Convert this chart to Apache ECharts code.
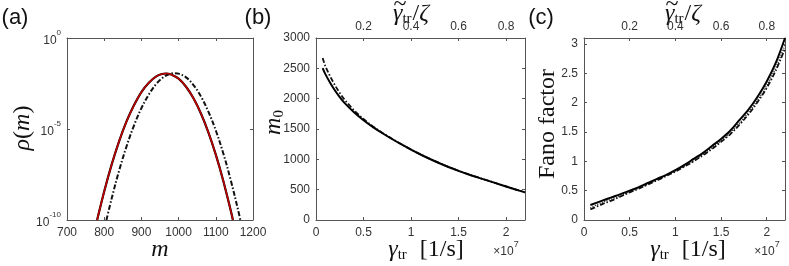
<!DOCTYPE html>
<html><head><meta charset="utf-8">
<script src="https://cdn.jsdelivr.net/npm/echarts@6/dist/echarts.min.js"></script>
<style>html,body{margin:0;padding:0;background:#fff}#c{width:789px;height:266px}</style>
</head><body><div id="c"></div>
<script>
// ---------- Panel (a): distribution rho(m) ----------
const mRed   = [781, 800, 820, 840, 860, 880, 900, 920, 940, 955, 966, 980, 1000, 1020, 1040, 1060, 1080, 1100, 1120, 1140, 1146];
const rhoRed = [1e-10, 3.7e-9, 1.1e-7, 2.1e-6, 2.6e-5, 2.0e-4, 1.07e-3, 3.5e-3, 7.8e-3, 1.05e-2, 1.12e-2, 1.0e-2, 5.8e-3, 2.1e-3, 4.9e-4, 7.1e-5, 6.6e-6, 3.9e-7, 1.45e-8, 3.4e-10, 1e-10];
const mDash   = [806, 820, 840, 860, 880, 900, 920, 940, 960, 980, 990, 1000, 1020, 1040, 1060, 1080, 1100, 1120, 1140, 1160, 1166];
const rhoDash = [1e-10, 1.5e-9, 5.1e-8, 1.1e-6, 1.55e-5, 1.4e-4, 7.9e-4, 3.0e-3, 7.2e-3, 1.12e-2, 1.17e-2, 1.1e-2, 6.9e-3, 2.6e-3, 6.2e-4, 9.1e-5, 8.3e-6, 4.7e-7, 1.6e-8, 3.5e-10, 1e-10];

// ---------- Panel (b): m0 vs gamma_tr (units of 1e7 1/s) ----------
const gB = [0.07, 0.1, 0.15, 0.2, 0.25, 0.3, 0.4, 0.5, 0.6, 0.7, 0.8, 0.9, 1.0, 1.1, 1.2, 1.3, 1.4, 1.5, 1.6, 1.7, 1.8, 1.9, 2.0, 2.1, 2.2];
const m0Solid = [2505, 2400, 2260, 2135, 2025, 1930, 1775, 1645, 1532, 1430, 1335, 1245, 1160, 1080, 1005, 935, 870, 810, 755, 703, 653, 603, 553, 503, 455];
const m0Dash  = [2670, 2530, 2365, 2220, 2095, 1985, 1810, 1665, 1542, 1436, 1339, 1248, 1162, 1082, 1007, 937, 872, 812, 757, 705, 655, 605, 555, 505, 457];

// ---------- Panel (c): Fano factor vs gamma_tr ----------
const gC = [0.07, 0.2, 0.3, 0.4, 0.5, 0.6, 0.7, 0.8, 0.9, 1.0, 1.1, 1.2, 1.3, 1.4, 1.5, 1.6, 1.7, 1.8, 1.9, 2.0, 2.1, 2.2];
const fanoSolid = [0.255, 0.33, 0.385, 0.44, 0.50, 0.56, 0.63, 0.70, 0.77, 0.85, 0.94, 1.04, 1.14, 1.26, 1.38, 1.52, 1.70, 1.88, 2.10, 2.36, 2.68, 3.10];
const fanoDot   = [0.21, 0.30, 0.355, 0.415, 0.48, 0.545, 0.615, 0.685, 0.76, 0.835, 0.92, 1.015, 1.115, 1.23, 1.35, 1.48, 1.65, 1.83, 2.04, 2.29, 2.60, 2.98];
const fanoDash  = [0.18, 0.27, 0.33, 0.40, 0.47, 0.535, 0.605, 0.675, 0.75, 0.825, 0.91, 1.00, 1.10, 1.21, 1.33, 1.46, 1.62, 1.80, 2.01, 2.25, 2.55, 2.92];

const pairs = (xs, ys) => xs.map((x, i) => [x, ys[i]]);
const AX = '#555', TXT = '#333';
const SANS = 'Liberation Sans', SERIF = 'Liberation Serif';
const plain = v => String(v);
const lbl = {color: TXT, fontFamily: SANS, fontSize: 12, formatter: plain};

function frameAxis(extra) {
  return Object.assign({
    axisLine: {show: true, onZero: false, lineStyle: {color: AX, width: 1}},
    axisTick: {show: true, inside: true, length: 3, lineStyle: {color: AX}},
    splitLine: {show: false},
    axisLabel: {show: false}
  }, extra);
}

const grids = [
  {left: 67, top: 38, width: 186, height: 182},
  {left: 316, top: 38, width: 209, height: 182},
  {left: 584, top: 38, width: 201, height: 182}
];

const xAxis = [
  frameAxis({gridIndex: 0, type: 'value', position: 'bottom', min: 700, max: 1200, interval: 100,
    axisLabel: Object.assign({show: true, margin: 7}, lbl)}),
  frameAxis({gridIndex: 0, type: 'value', position: 'top', min: 700, max: 1200, interval: 100}),
  frameAxis({gridIndex: 1, type: 'value', position: 'bottom', min: 0, max: 2.2, interval: 0.5,
    axisLabel: Object.assign({show: true, margin: 7, showMaxLabel: false}, lbl)}),
  frameAxis({gridIndex: 1, type: 'value', position: 'top', min: 0, max: 0.88, interval: 0.2,
    axisLabel: Object.assign({show: true, margin: 5, showMinLabel: false, showMaxLabel: false}, lbl)}),
  frameAxis({gridIndex: 2, type: 'value', position: 'bottom', min: 0, max: 2.2, interval: 0.5,
    axisLabel: Object.assign({show: true, margin: 7, showMaxLabel: false}, lbl)}),
  frameAxis({gridIndex: 2, type: 'value', position: 'top', min: 0, max: 0.88, interval: 0.2,
    axisLabel: Object.assign({show: true, margin: 5, showMinLabel: false, showMaxLabel: false}, lbl)})
];

const yAxis = [
  frameAxis({gridIndex: 0, type: 'log', logBase: 10, min: 1e-10, max: 1, interval: 5, position: 'left',
    axisLabel: {show: true, margin: 6, color: TXT,
      formatter: v => '{b|10}{s|' + Math.round(Math.log10(v)) + '}',
      rich: {b: {fontFamily: SANS, fontSize: 12, color: TXT, lineHeight: 18, verticalAlign: 'bottom'},
             s: {fontFamily: SANS, fontSize: 8, color: TXT, lineHeight: 18, verticalAlign: 'top'}}}}),
  frameAxis({gridIndex: 0, type: 'log', logBase: 10, min: 1e-10, max: 1, interval: 5, position: 'right'}),
  frameAxis({gridIndex: 1, type: 'value', min: 0, max: 3000, interval: 500, position: 'left',
    axisLabel: Object.assign({show: true, margin: 6}, lbl)}),
  frameAxis({gridIndex: 1, type: 'value', min: 0, max: 3000, interval: 500, position: 'right'}),
  frameAxis({gridIndex: 2, type: 'value', min: 0, max: 3.1, interval: 0.5, position: 'left',
    axisLabel: Object.assign({show: true, margin: 6, showMaxLabel: false}, lbl)}),
  frameAxis({gridIndex: 2, type: 'value', min: 0, max: 3.1, interval: 0.5, position: 'right'})
];

function line(xi, yi, data, color, width, type, z) {
  return {type: 'line', xAxisIndex: xi, yAxisIndex: yi, data: data, showSymbol: false, smooth: 0.35,
    clip: true, z: z || 2, animation: false,
    lineStyle: {color: color, width: width, type: type}};
}

const series = [
  line(0, 0, pairs(mDash, rhoDash), '#111', 2, [5, 2, 1.5, 2], 2),
  line(0, 0, pairs(mRed, rhoRed), '#000', 2.2, 'solid', 3),
  line(0, 0, pairs(mRed, rhoRed), '#c00000', 1.6, 'solid', 4),
  line(2, 2, pairs(gB, m0Dash), '#111', 1.8, [5, 2, 1.5, 2], 2),
  line(2, 2, pairs(gB, m0Solid), '#000', 2, 'solid', 3),
  line(4, 4, pairs(gC, fanoDash), '#111', 1.8, [5, 2, 1.5, 2], 2),
  line(4, 4, pairs(gC, fanoDot), '#222', 1.5, [1, 1.5], 2),
  line(4, 4, pairs(gC, fanoSolid), '#000', 2, 'solid', 3)
];

function txt(x, y, text, extra, align) {
  return Object.assign({type: 'text', x: x, y: y, silent: true,
    style: {text: text, rich: R, align: align || 'center', verticalAlign: 'middle', fill: '#111'}}, extra || {});
}
const R = {
  i: {fontFamily: SERIF, fontStyle: 'italic', fontSize: 24, fill: '#111', lineHeight: 28, verticalAlign: 'middle'},
  r: {fontFamily: SERIF, fontSize: 24, fill: '#111', lineHeight: 28, verticalAlign: 'middle'},
  sub: {fontFamily: SERIF, fontSize: 15, fill: '#111', lineHeight: 28, verticalAlign: 'bottom', padding: [0, 1, 1, 0]},
  sans: {fontFamily: SANS, fontSize: 22, fill: '#111', lineHeight: 28},
  x: {fontFamily: SANS, fontSize: 12, fill: TXT, lineHeight: 18, verticalAlign: 'bottom'},
  e: {fontFamily: SANS, fontSize: 9, fill: TXT, lineHeight: 18, verticalAlign: 'top'}
};
const gammaTitle = '{i|γ}{sub|tr}{r|  [1/s]}';
const topTitle = '{i|γ}{sub|tr}{r|/}{i|ζ}';

const graphic = [
  txt(15, 18, '{sans|(a)}'),
  txt(258, 18, '{sans|(b)}'),
  txt(541, 18, '{sans|(c)}'),
  txt(23, 128, '{i|ρ}{r|(}{i|m}{r|)}', {rotation: Math.PI / 2}),
  txt(160, 250, '{i|m}'),
  txt(274, 122, '{i|m}{sub|0}', {rotation: Math.PI / 2}),
  txt(426, 250, gammaTitle),
  txt(506, 249, '{x|×10}{e|7}'),
  txt(393, 14, topTitle, null, 'left'),
  txt(400, 5, '{r|~}'),
  txt(548, 124, '{r|Fano factor}', {rotation: Math.PI / 2}),
  txt(688, 250, gammaTitle),
  txt(767, 249, '{x|×10}{e|7}'),
  txt(665, 14, topTitle, null, 'left'),
  txt(672, 5, '{r|~}')
];

const chart = echarts.init(document.getElementById('c'), null, {renderer: 'canvas'});
chart.setOption({animation: false, backgroundColor: '#fff', grid: grids, xAxis: xAxis, yAxis: yAxis, series: series, graphic: graphic});
</script>
</body></html>
